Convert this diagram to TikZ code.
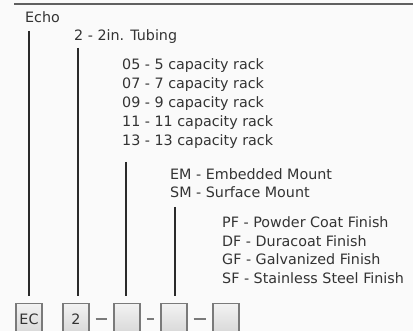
\documentclass[tikz,border=0pt]{standalone}
\usepackage{fontspec}
\setmainfont{DejaVu Sans}

\definecolor{pagebg}{HTML}{FAFAFA}
\definecolor{txtgray}{HTML}{333333}
\definecolor{linegray}{HTML}{2A2A2A}
\definecolor{boxgray}{HTML}{7A7A7A}

\begin{document}
\begin{tikzpicture}[x=1pt, y=-1pt, font=\fontsize{14.3}{16}\selectfont,
  desc/.style={anchor=base west, inner sep=0pt, text=txtgray},
  leader/.style={line width=2.2pt, draw=linegray},
  codebox/.style={draw=boxgray, line width=1.2pt, top color=gray!10,
    bottom color=gray!32, minimum width=26pt, minimum height=32pt,
    anchor=north, inner sep=0pt, text=txtgray},
  joiner/.style={line width=1.4pt, draw=boxgray, shorten <=6pt, shorten >=6pt}]

  % Page
  \fill[pagebg] (0,0) rectangle (413,331);
  \useasboundingbox (0,0) rectangle (413,331);
  \clip (0,0) rectangle (413,331);

  % Rule at the top
  \path (14,4) coordinate(rl) (413,4) coordinate(rr);
  \draw[line width=2pt, draw=gray!75!black] (rl) -- (rr);

  % Descriptions
  \node[desc] (echo) at (25,23) {Echo};
  \node[desc] (tubing) at (74,41) {2 - 2in. Tubing};

  \node[desc] (cap05) at (122,70) {05 - 5 capacity rack};
  \node[desc] (cap07) at (122,89) {07 - 7 capacity rack};
  \node[desc] (cap09) at (122,108) {09 - 9 capacity rack};
  \node[desc] (cap11) at (122,127) {11 - 11 capacity rack};
  \node[desc] (cap13) at (122,146) {13 - 13 capacity rack};

  \node[desc] (mountem) at (170,180) {EM - Embedded Mount};
  \node[desc] (mountsm) at (170,198) {SM - Surface Mount};

  \node[desc] (finpf) at (222,228) {PF - Powder Coat Finish};
  \node[desc] (findf) at (222,246.5) {DF - Duracoat Finish};
  \node[desc] (fingf) at (222,265) {GF - Galvanized Finish};
  \node[desc] (finsf) at (222,283.5) {SF - Stainless Steel Finish};

  % Code boxes
  \node[codebox] (bxecho) at (29,303) {EC};
  \node[codebox] (bxtube) at (76,303) {2};
  \node[codebox] (bxcap) at (127,303) {};
  \node[codebox] (bxmount) at (174,303) {};
  \node[codebox] (bxfin) at (226,303) {};

  % Joining dashes
  \draw[joiner] (bxtube.east |- 0,319) -- (bxcap.west |- 0,319);
  \draw[joiner] (bxcap.east |- 0,319) -- (bxmount.west |- 0,319);
  \draw[joiner] (bxmount.east |- 0,319) -- (bxfin.west |- 0,319);

  % Coordinates for the leader lines
  %
  % t -> top
  % b -> bottom
  \path
  (29,31) coordinate(techo)
  (29,296) coordinate(becho)
  (78,48) coordinate(ttube)
  (78,296) coordinate(btube)
  (126,162) coordinate(tcap)
  (126,296) coordinate(bcap)
  (175,207) coordinate(tmount)
  (175,296) coordinate(bmount);

  % Leader lines
  \draw[leader] (techo) -- (becho);
  \draw[leader] (ttube) -- (btube);
  \draw[leader] (tcap) -- (bcap);
  \draw[leader] (tmount) -- (bmount);
\end{tikzpicture}
\end{document}
